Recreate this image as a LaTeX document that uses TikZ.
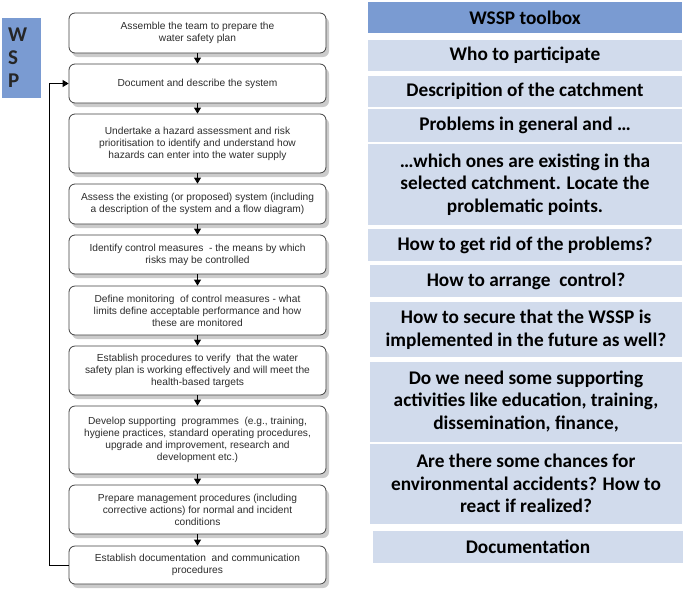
\documentclass[tikz,border=0pt]{standalone}
\usepackage{fontspec}
\setmainfont{Liberation Sans}
\newfontfamily\toolfont{Carlito}
\usetikzlibrary{arrows.meta,shadows}

\definecolor{WspBlue}{RGB}{122,155,210}
\definecolor{ToolBlue}{RGB}{209,219,236}
\definecolor{StepText}{RGB}{45,45,45}

\tikzset{
    stepbox/.style={draw=black!75, line width=0.8pt, fill=white,
        rounded corners=6pt, minimum width=257pt, align=center,
        text=StepText, inner sep=1pt,
        font=\fontsize{10.2}{12}\selectfont,
        drop shadow={shadow xshift=3pt, shadow yshift=-4pt,
            fill=black!45, opacity=0.45}},
    toolbox/.style={fill=ToolBlue, minimum width=314pt, align=center,
        inner sep=0pt, font=\toolfont\bfseries\fontsize{19.3}{22.5}\selectfont},
    flow/.style={-{Triangle[length=6pt,width=7pt]}, line width=0.8pt}
}

\begin{document}
\begin{tikzpicture}[x=1pt, y=-1pt]
    \useasboundingbox (0,0) rectangle (685,595);

    % WSP tag
    \node[fill=WspBlue, minimum width=39pt, minimum height=80pt,
        inner sep=0pt] (Tag) at (21.5,58) {};
    \node[font=\toolfont\bfseries\fontsize{21}{23}\selectfont,
        align=left, text=black!85, anchor=west, inner sep=0pt]
        (TagText) at (8,58) {W\\S\\P};

    % steps of the plan
    \node[stepbox, minimum height=40pt] (Step1) at (197.5,33)
        {Assemble the team to prepare the\\water safety plan};
    \node[stepbox, minimum height=39pt] (Step2) at (197.5,83.5)
        {Document and describe the system};
    \node[stepbox, minimum height=59pt] (Step3) at (197.5,143.5)
        {Undertake a hazard assessment and risk\\
         prioritisation to identify and understand how\\
         hazards can enter into the water supply};
    \node[stepbox, minimum height=40pt] (Step4) at (197.5,204)
        {Assess the existing (or proposed) system (including\\
         a description of the system and a flow diagram)};
    \node[stepbox, minimum height=39pt] (Step5) at (197.5,254.5)
        {Identify control measures\ \ - the means by which\\
         risks may be controlled};
    \node[stepbox, minimum height=49pt] (Step6) at (197.5,310.5)
        {Define monitoring\ \ of control measures - what\\
         limits define acceptable performance and how\\
         these are monitored};
    \node[stepbox, minimum height=49pt] (Step7) at (197.5,370.5)
        {Establish procedures to verify\ \ that the water\\
         safety plan is working effectively and will meet the\\
         health-based targets};
    \node[stepbox, minimum height=68pt] (Step8) at (197.5,440)
        {Develop supporting\ \ programmes\ \ (e.g., training,\\
         hygiene practices, standard operating procedures,\\
         upgrade and improvement, research and\\
         development etc.)};
    \node[stepbox, minimum height=49pt] (Step9) at (197.5,509.5)
        {Prepare management procedures (including\\
         corrective actions) for normal and incident\\
         conditions};
    \node[stepbox, minimum height=38pt] (Step10) at (197.5,565)
        {Establish documentation\ \ and communication\\
         procedures};

    \foreach \a/\b in {1/2,2/3,3/4,4/5,5/6,6/7,7/8,8/9,9/10}
        \draw[flow] (Step\a.south) -- (Step\b.north);

    % back to the description
    \draw[flow] (Step10.west) -- ++(-19,0) |- (Step2.west);

    % WSSP toolbox
    \node[toolbox, fill=WspBlue, minimum height=31pt] (Head) at (525,17.5)
        {WSSP toolbox};
    \node[toolbox, minimum height=31pt] (Who) at (525,55.5)
        {Who to participate};
    \node[toolbox, minimum height=31pt] (Descr) at (525,91.5)
        {Descripition of the catchment};
    \node[toolbox, minimum height=33pt] (Probl) at (525,125.5)
        {Problems in general and \ldots};
    \node[toolbox, minimum height=81pt] (Which) at (525,184.5)
        {\ldots which ones are existing in tha\\
         selected catchment. Locate the\\
         problematic points.};
    \node[toolbox, minimum height=32pt] (Rid) at (525,245)
        {How to get rid of the problems?};
    \node[toolbox, minimum height=32pt, minimum width=312pt] (Ctrl)
        at (526,281) {How to arrange\ \ control?};
    \node[toolbox, minimum height=55pt, minimum width=312pt] (Secure)
        at (526,329.5) {How to secure that the WSSP is\\
         implemented in the future as well?};
    \node[toolbox, minimum height=80pt, minimum width=312pt] (Support)
        at (526,401.5) {Do we need some supporting\\
         activities like education, training,\\
         dissemination, finance,};
    \node[toolbox, minimum height=80pt, minimum width=312pt] (Accid)
        at (526,483.5) {Are there some chances for\\
         environmental accidents? How to\\
         react if realized?};
    \node[toolbox, minimum height=32pt, minimum width=310pt] (Docu)
        at (528,547) {Documentation};
\end{tikzpicture}
\end{document}
